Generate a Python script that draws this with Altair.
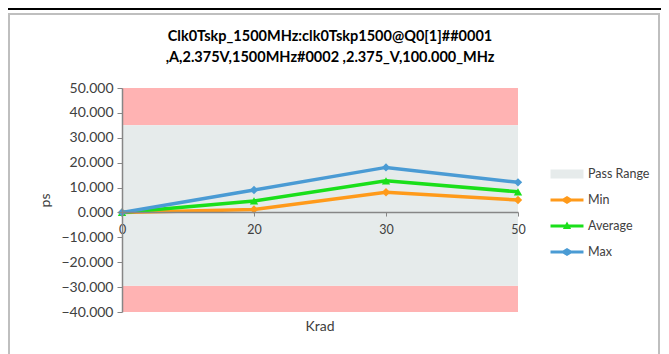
import altair as alt
import pandas as pd

krad = ["0", "20", "30", "50"]
min_vals = [0.0, 1.2, 8.1, 5.0]
avg_vals = [0.0, 4.6, 12.7, 8.3]
max_vals = [0.0, 9.0, 18.1, 12.1]
series_names = ["Min", "Average", "Max"]
series_colors = ["#FF9A1A", "#1ADF1A", "#4A9BD4"]
series_shapes = ["diamond", "triangle-up", "diamond"]

pass_lo, pass_hi = -29.5, 35.0
y_min, y_max = -40.0, 50.0
y_ticks = [-40, -30, -20, -10, 0, 10, 20, 30, 40, 50]
title_lines = ["Clk0Tskp_1500MHz:clk0Tskp1500@Q0[1]##0001",
               ",A,2.375V,1500MHz#0002 ,2.375_V,100.000_MHz"]

W, H = 396, 224
FONT = "Lato"
TXT = "#404040"

rows = []
for name, vals in zip(series_names, [min_vals, avg_vals, max_vals]):
    for k, v in zip(krad, vals):
        rows.append({"Krad": k, "ps": v, "series": name})
df = pd.DataFrame(rows)

fail_df = pd.DataFrame({"lo": [pass_hi, y_min], "hi": [y_max, pass_lo]})
pass_df = pd.DataFrame({"lo": [pass_lo], "hi": [pass_hi]})

yscale = alt.Scale(domain=[y_min, y_max], nice=False, zero=False)
xscale = alt.Scale(type="point", domain=krad, padding=0)

x_axis = alt.Axis(title=None, offset=-(H * (0 - y_min) / (y_max - y_min)) - 0.4,
                  labelAngle=0, labelFont=FONT, labelFontSize=12.5,
                  labelColor=TXT, domainColor="#868686", domainWidth=1.5,
                  tickColor="#868686", tickSize=4, labelPadding=7, grid=False,
                  labelOverlap=False, zindex=1)
y_axis = alt.Axis(title="ps", values=y_ticks, format=".3f", tickCount=10,
                  labelFont=FONT, labelFontSize=14, labelColor=TXT,
                  labelOverlap=False,
                  titleFont=FONT, titleFontSize=14, titleFontWeight="normal",
                  titleColor=TXT, titlePadding=8,
                  domainColor="#868686", domainWidth=1.5, tickColor="#868686",
                  tickSize=5, labelPadding=4, grid=False, zindex=1)


def yenc(field):
    return alt.Y(field, scale=yscale, axis=y_axis)


xenc = alt.X("Krad:O", scale=xscale, sort=krad, axis=x_axis)

fail = alt.Chart(fail_df).mark_rect(color="#FFB3B3").encode(
    x=alt.value(0), x2=alt.value(W), y=yenc("lo:Q"), y2="hi:Q")
passr = alt.Chart(pass_df).mark_rect(color="#E6EBEB").encode(
    x=alt.value(0), x2=alt.value(W), y=yenc("lo:Q"), y2="hi:Q")

color_scale = alt.Scale(domain=series_names, range=series_colors)
lines = alt.Chart(df).mark_line(strokeWidth=3.5).encode(
    x=xenc, y=yenc("ps:Q"),
    color=alt.Color("series:N", scale=color_scale, legend=None))
points = alt.Chart(df).mark_point(filled=True, size=70, opacity=1).encode(
    x=xenc, y=yenc("ps:Q"),
    color=alt.Color("series:N", scale=color_scale, legend=None),
    shape=alt.Shape("series:N", scale=alt.Scale(domain=series_names, range=series_shapes),
                    legend=None))

# legend
leg_names = ["Pass Range"] + series_names
leg_colors = ["#E6EBEB"] + series_colors
p_rect = "M-2.5,-0.68 L2.5,-0.68 L2.5,0.68 L-2.5,0.68 Z"
p_diam = ("M-2.5,-0.22 L-0.62,-0.22 L0,-0.62 L0.62,-0.22 L2.5,-0.22 L2.5,0.22 "
          "L0.62,0.22 L0,0.62 L-0.62,0.22 L-2.5,0.22 Z")
p_tri = "M-2.5,-0.22 L2.5,-0.22 L2.5,0.22 L-2.5,0.22 Z M0,-0.7 L0.62,0.45 L-0.62,0.45 Z"
leg_paths = [p_rect, p_diam, p_tri, p_diam]
leg_df = pd.DataFrame({"series": leg_names, "Krad": ["0"] * 4, "ps": [0.0] * 4})
leg_kw = dict(title=None, orient="none", legendX=438, legendY=79,
              symbolSize=174, symbolStrokeWidth=0, symbolOpacity=1,
              labelFont=FONT, labelFontSize=12.5, labelColor=TXT,
              labelOffset=14, rowPadding=12)
legend_layer = alt.Chart(leg_df).mark_point(filled=True, opacity=0).encode(
    x=xenc, y=yenc("ps:Q"),
    color=alt.Color("series:N", scale=alt.Scale(domain=leg_names, range=leg_colors),
                    legend=alt.Legend(**leg_kw)),
    shape=alt.Shape("series:N", scale=alt.Scale(domain=leg_names, range=leg_paths),
                    legend=alt.Legend(**leg_kw)))

krad_title = alt.Chart(pd.DataFrame({"t": ["Krad"]})).mark_text(
    font=FONT, fontSize=14, color=TXT, baseline="middle").encode(
    text="t:N", x=alt.value(W / 2), y=alt.value(239))

title1 = alt.Chart(pd.DataFrame({"t": [title_lines[0]]})).mark_text(
    font=FONT, fontSize=14.5, fontWeight="bold", color="#000000", baseline="middle").encode(
    text="t:N", x=alt.value(W / 2 + 10), y=alt.value(-51))
title2 = alt.Chart(pd.DataFrame({"t": [title_lines[1]]})).mark_text(
    font=FONT, fontSize=14.5, fontWeight="bold", color="#000000", baseline="middle").encode(
    text="t:N", x=alt.value(W / 2 + 10), y=alt.value(-30))

frame = alt.Chart(pd.DataFrame({"a": [0]})).mark_rect(
    filled=False, stroke="#BFBFBF", strokeWidth=2).encode(
    x=alt.value(-113), x2=alt.value(537), y=alt.value(-74), y2=alt.value(300))
topline = alt.Chart(pd.DataFrame({"a": [0]})).mark_rule(
    color="#000000", strokeWidth=2).encode(
    x=alt.value(-114), x2=alt.value(547), y=alt.value(-79))

chart = alt.layer(frame, topline, fail, passr, lines, points, legend_layer,
                  krad_title, title1, title2).resolve_scale(
    color="independent", shape="independent"
).properties(
    width=W, height=H,
    autosize=alt.AutoSizeParams(type="none"),
    padding={"left": 114, "top": 80, "right": 143, "bottom": 42},
).configure_view(stroke=None)

chart.save("out.html", embed_options={"renderer": "svg", "actions": False})
